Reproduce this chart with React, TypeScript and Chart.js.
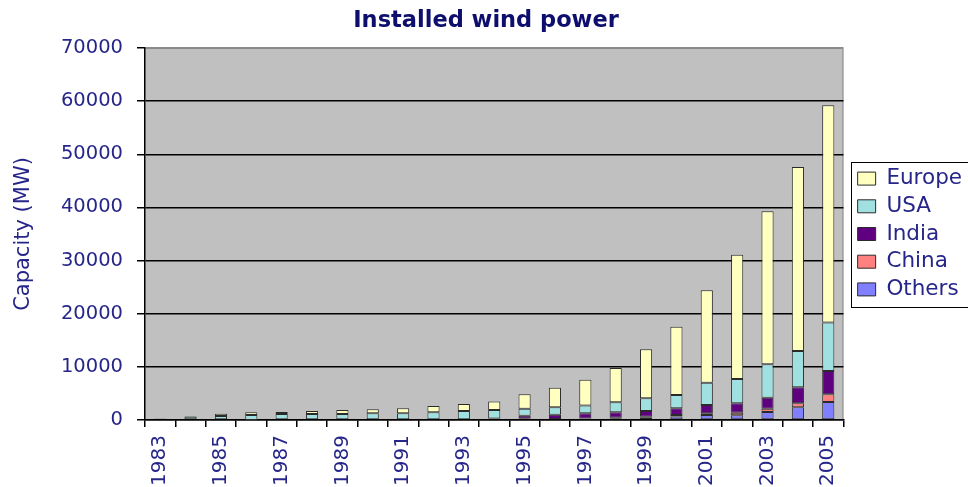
import React, { useEffect, useRef } from "react";
import { Chart, registerables } from "chart.js";

Chart.register(...registerables);

const years = ["1983","1984","1985","1986","1987","1988","1989","1990","1991","1992","1993","1994","1995","1996","1997","1998","1999","2000","2001","2002","2003","2004","2005"];
const others = [0,0,0,20,0,0,0,0,0,0,0,150,200,100,150,240,430,650,940,880,1500,2390,3390];
const china = [0,0,0,0,0,0,0,0,0,0,0,0,40,80,150,200,200,300,320,490,600,750,1440];
const india = [0,0,0,0,0,0,0,0,0,0,0,150,580,820,950,1000,1060,1260,1560,1770,2100,3000,4400];
const usa = [220,600,750,940,1130,1130,1130,1250,1250,1440,1690,1570,1320,1380,1500,1880,2400,2500,4200,4560,6300,6850,9100];
const europe = [80,100,420,500,380,560,750,750,940,1190,1320,1630,2700,3700,4830,6460,9200,12850,17400,23400,28800,34600,40900];

const yMax = 70000;
const yStep = 10000;

const FONT = "'DejaVu Sans', Verdana, sans-serif";
const TEXT = "#26268a";
const TITLE = "#0e0e6e";

const plotBg = {
  id: "plotBg",
  beforeDraw(chart: any) {
    const { ctx, chartArea } = chart;
    if (!chartArea) return;
    const { left, top, right, bottom } = chartArea;
    ctx.save();
    ctx.fillStyle = "#C0C0C0";
    ctx.fillRect(left, top, right - left, bottom - top);
    ctx.strokeStyle = "#8a8a8a";
    ctx.lineWidth = 1;
    ctx.beginPath();
    ctx.moveTo(left, top + 0.5);
    ctx.lineTo(right - 0.5, top + 0.5);
    ctx.lineTo(right - 0.5, bottom);
    ctx.stroke();
    ctx.restore();
  },
};

const legendBorder = {
  id: "legendBorder",
  afterDraw(chart: any) {
    const lg = chart.legend;
    if (!lg || !lg.columnSizes || !lg.columnSizes.length) return;
    const pad = lg.options.labels.padding;
    const colH = lg.columnSizes[0].height;
    const itemsTop = (lg.top + pad + lg.bottom - colH) / 2;
    const y0 = Math.round(itemsTop - 5.5);
    const y1 = Math.round(itemsTop + colH - pad + 7);
    const ctx = chart.ctx;
    ctx.save();
    ctx.strokeStyle = "#000";
    ctx.lineWidth = 1;
    ctx.strokeRect(Math.round(lg.left) + 0.5, y0 + 0.5, Math.round(lg.width) - 3, y1 - y0);
    ctx.restore();
  },
};

export default function App() {
  const ref = useRef<HTMLCanvasElement | null>(null);

  useEffect(() => {
    document.body.style.margin = "0";
    const canvas = ref.current;
    if (!canvas) return;
    const mk = (label: string, data: number[], color: string) => ({
      label,
      data,
      backgroundColor: color,
      borderColor: "#2a2a2a",
      borderWidth: 1,
      borderSkipped: false,
      barPercentage: 0.4,
      categoryPercentage: 1,
      yAxisID: "y",
    });
    const chart = new Chart(canvas, {
      type: "bar",
      data: {
        labels: years,
        datasets: [
          mk("Others", others, "#8080FF"),
          mk("China", china, "#FF8080"),
          mk("India", india, "#5E0080"),
          mk("USA", usa, "#A0E0E0"),
          mk("Europe", europe, "#FFFFC0"),
        ],
      },
      options: {
        responsive: false,
        animation: false,
        devicePixelRatio: 1,
        layout: { padding: { left: 0, right: 0, top: 0, bottom: 0 } },
        plugins: {
          tooltip: { enabled: false },
          title: {
            display: true,
            text: "Installed wind power",
            color: TITLE,
            font: { family: FONT, size: 22.5, weight: "bold" },
            padding: { top: 8, bottom: 13 },
          },
          legend: {
            position: "right",
            fullSize: false,
            reverse: true,
            maxWidth: 122,
            labels: {
              color: TEXT,
              font: { family: FONT, size: 21.5 },
              boxWidth: 18,
              boxHeight: 13,
              padding: 6.2,
            },
          },
        },
        scales: {
          x: {
            stacked: true,
            offset: true,
            grid: {
              display: true,
              drawOnChartArea: false,
              offset: true,
              tickLength: 7,
              color: "#000",
              lineWidth: 1.5,
            },
            border: { display: true, color: "#000", width: 1.5 },
            ticks: {
              autoSkip: false,
              maxRotation: 90,
              minRotation: 90,
              padding: 8,
              color: TEXT,
              font: { family: FONT, size: 20 },
              callback: function (this: any, value: any, index: number) {
                return index % 2 === 0 ? this.getLabelForValue(value) : "";
              },
            },
            afterFit(scale: any) {
              scale.height = 67;
            },
          },
          y: {
            stacked: true,
            min: 0,
            max: yMax,
            position: "left",
            grid: {
              color: (c: any) => (c.tick && c.tick.value === yMax ? "#8a8a8a" : "#000"),
              tickColor: "#000",
              lineWidth: 1.5,
              tickLength: 8,
            },
            border: { display: true, color: "#000", width: 1.5 },
            ticks: {
              stepSize: yStep,
              padding: 14,
              color: TEXT,
              font: { family: FONT, size: 19.5 },
              callback: (v: any) => String(v),
            },
            title: {
              display: true,
              text: "Capacity (MW)",
              color: TEXT,
              font: { family: FONT, size: 21 },
              padding: { top: 10.5, bottom: 0 },
            },
            afterFit(scale: any) {
              scale.width = 145;
            },
          },
          gap: {
            type: "linear",
            position: "right",
            display: true,
            grid: { display: false },
            border: { display: false },
            ticks: { display: false },
            afterFit(scale: any) {
              scale.width = 8;
            },
          },
        },
      } as any,
      plugins: [plotBg, legendBorder],
    });
    return () => chart.destroy();
  }, []);

  return (
    <div style={{ width: 968, height: 487, overflow: "hidden", background: "#fff" }}>
      <canvas ref={ref} width={972} height={487} style={{ display: "block" }} />
    </div>
  );
}
